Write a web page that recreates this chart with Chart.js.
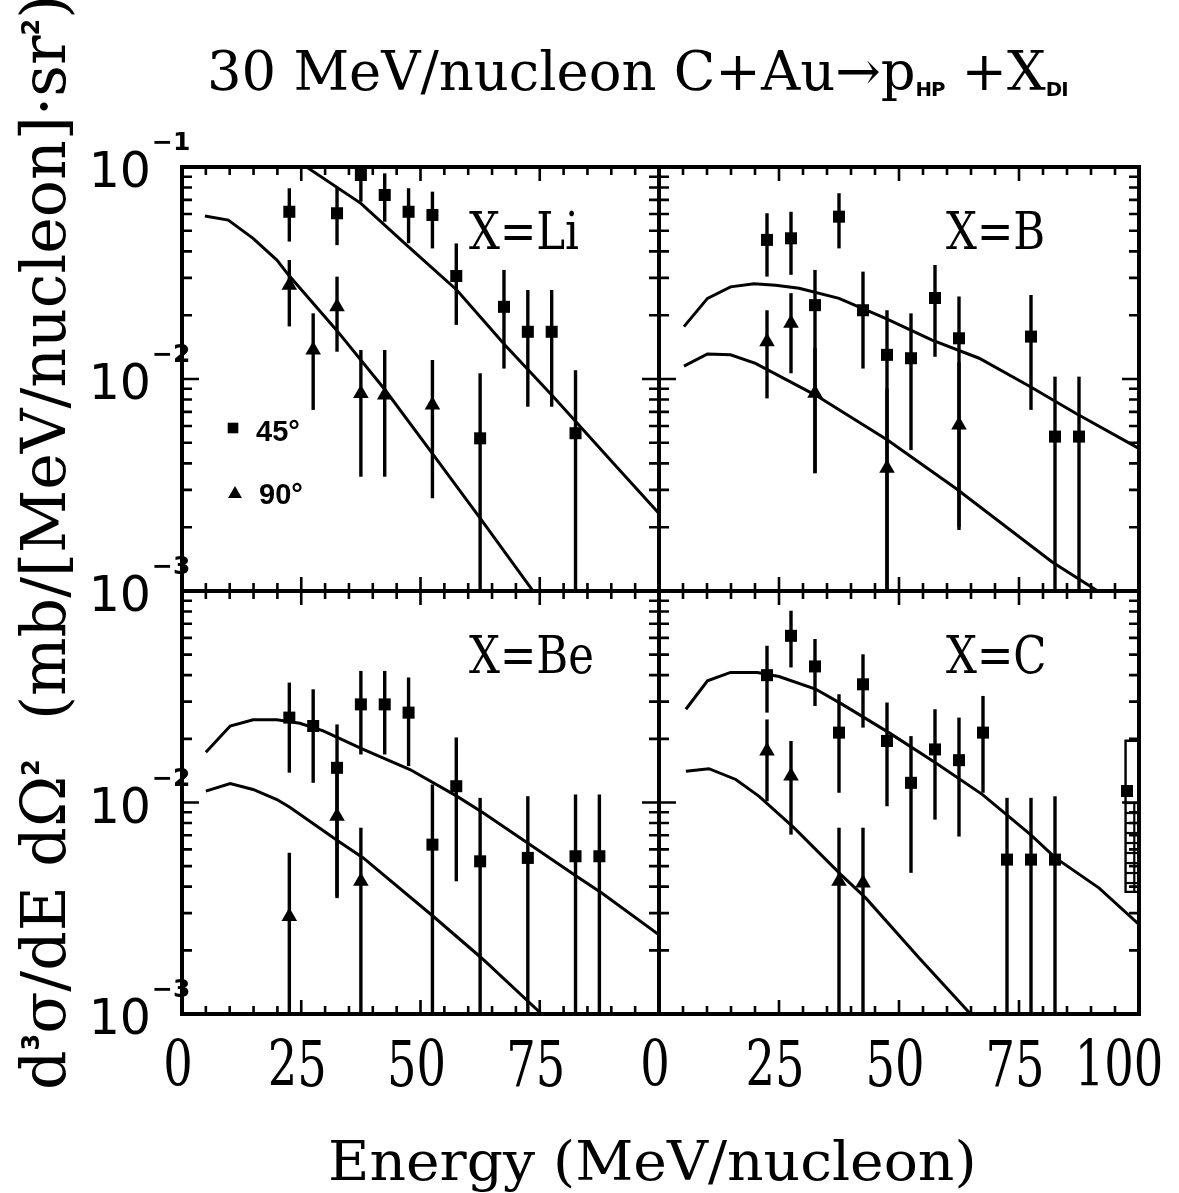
<!DOCTYPE html>
<html>
<head>
<meta charset="utf-8">
<script src="https://cdn.jsdelivr.net/npm/chart.js@4.4.1/dist/chart.umd.min.js"></script>
<style>
html, body { margin: 0; padding: 0; background: #fff; }
#wrap { position: relative; width: 1179px; height: 1193px; overflow: hidden; background: #fff; }
#wrap canvas { position: absolute; left: 0; top: 0; }
.t { position: absolute; font-family: "DejaVu Serif Condensed", "DejaVu Serif", serif; font-stretch: condensed;
     color: #000; white-space: nowrap; line-height: 1; transform-origin: 0 0; }
.sub { font-family: "DejaVu Sans", sans-serif; font-weight: bold; font-size: 20px; position: relative; top: 6px; letter-spacing: -1px; }
.sup { font-family: "DejaVu Sans", sans-serif; font-weight: bold; font-size: 24px; position: relative; top: -26px; }
</style>
</head>
<body>
<div id="wrap">
  <canvas id="cTL" width="1179" height="1193"></canvas>
  <canvas id="cTR" width="1179" height="1193"></canvas>
  <canvas id="cBL" width="1179" height="1193"></canvas>
  <canvas id="cBR" width="1179" height="1193"></canvas>
  <div class="t" id="title" style="left:207px; top:44px; font-size:55px;">30 MeV/nucleon C+Au→p<span class="sub">HP</span> +X<span class="sub">DI</span></div>
  <div class="t" id="xtitle" style="left:328px; top:1134px; font-size:55px;">Energy (MeV/nucleon)</div>
  <div class="t" id="ytitle" style="left:13px; top:1090px; font-size:62px;">d<span class="sup">3</span>σ/dE dΩ<span class="sup">2</span>&nbsp; (mb/[MeV/nucleon]·sr<span class="sup">2</span>)</div>
</div>
<script>
// [energy, value, error low, error high]  (error low 0.001 = runs off the bottom of the frame)
var li45 = [[22.5, 0.0615, 0.0445, 0.0794], [32.5, 0.0605, 0.0428, 0.0807], [37.5, 0.0917, 0.0686, 0.12],
            [42.5, 0.0738, 0.0552, 0.0933], [47.5, 0.0615, 0.0437, 0.0794], [52.5, 0.0594, 0.0413, 0.0765],
            [57.5, 0.0306, 0.0180, 0.0436], [62.5, 0.00525, 0.001, 0.01064], [67.5, 0.0219, 0.0112, 0.0327],
            [72.5, 0.0167, 0.0074, 0.0263], [77.5, 0.0167, 0.0074, 0.0263], [82.5, 0.00555, 0.001, 0.0110]];
var li90 = [[22.5, 0.0277, 0.0177, 0.0364], [27.5, 0.0137, 0.00715, 0.0204], [32.5, 0.0219, 0.01345, 0.0304],
            [37.5, 0.00855, 0.00346, 0.0137], [42.5, 0.0084, 0.00346, 0.0137], [52.5, 0.00754, 0.00274, 0.0123]];
var b45 = [[22.5, 0.0453, 0.0304, 0.0605], [27.5, 0.0461, 0.031, 0.0615], [32.5, 0.0223, 0.00359, 0.0327],
           [37.5, 0.0583, 0.0413, 0.0752], [42.5, 0.0211, 0.0112, 0.0321], [47.5, 0.0130, 0.001, 0.0211],
           [52.5, 0.01253, 0.00462, 0.0204], [57.5, 0.0241, 0.01273, 0.0345], [62.5, 0.01556, 0.00194, 0.0245],
           [77.5, 0.01585, 0.00715, 0.0249], [82.5, 0.00535, 0.001, 0.01026], [87.5, 0.00535, 0.001, 0.01026]];
var b90 = [[22.5, 0.0150, 0.0081, 0.0211], [27.5, 0.0183, 0.01064, 0.0254], [32.5, 0.00857, 0.0036, 0.014],
           [47.5, 0.00379, 0.001, 0.009], [62.5, 0.00607, 0.002, 0.012]];
var be45 = [[22.5, 0.0252, 0.01384, 0.0369], [27.5, 0.0230, 0.01239, 0.0343], [32.5, 0.01459, 0.00353, 0.0234],
            [37.5, 0.0291, 0.01687, 0.0419], [42.5, 0.0291, 0.01687, 0.0419], [47.5, 0.0266, 0.01486, 0.039],
            [52.5, 0.00632, 0.001, 0.01216], [57.5, 0.01194, 0.00424, 0.0203], [62.5, 0.00527, 0.001, 0.01052],
            [72.5, 0.00547, 0.001, 0.01071], [82.5, 0.00557, 0.001, 0.0109], [87.5, 0.00557, 0.001, 0.0109]];
var be90 = [[22.5, 0.00289, 0.001, 0.00578], [32.5, 0.0086, 0.0036, 0.015], [37.5, 0.00424, 0.001, 0.0076]];
var c45 = [[22.5, 0.040, 0.0266, 0.0551], [27.5, 0.0614, 0.0435, 0.0807], [32.5, 0.044, 0.0286, 0.0593],
           [37.5, 0.0214, 0.01112, 0.0325], [42.5, 0.0362, 0.0226, 0.0502], [47.5, 0.01954, 0.0096, 0.0297],
           [52.5, 0.01239, 0.00465, 0.0206], [57.5, 0.01782, 0.0083, 0.0276], [62.5, 0.01585, 0.0069, 0.0252],
           [67.5, 0.0214, 0.01112, 0.0319], [72.5, 0.00537, 0.001, 0.01052], [77.5, 0.00537, 0.001, 0.01052],
           [82.5, 0.00537, 0.001, 0.0107], [97.5, 0.01133, null, null]];
var c90 = [[22.5, 0.0175, 0.01014, 0.0247], [27.5, 0.01334, 0.00705, 0.01954],
           [37.5, 0.00424, 0.001, 0.0076], [42.5, 0.00416, 0.001, 0.0076]];
// systematic band at the right edge of X=C: [E from, E to, low, high]
var cSys = [97.2, 100, 0.00378, 0.0196];

// calculated curves [energy, value]
var liFit45 = [[22.5, 0.113], [26.1, 0.1], [37.5, 0.0674], [47.1, 0.0428], [57.6, 0.0263], [67.7, 0.01446],
               [77.8, 0.00826], [91.1, 0.00386], [100, 0.00232]];
var liFit90 = [[4.8, 0.0587], [9.7, 0.0562], [14.9, 0.0461], [19.9, 0.0364], [22.3, 0.031], [32.4, 0.017],
               [42.6, 0.00887], [52.7, 0.00439], [62.8, 0.00216], [73.3, 0.00102], [75, 0.00088]];
var bFit45 = [[5.2, 0.01766], [10.1, 0.024], [14.9, 0.0272], [19.8, 0.0281], [24.3, 0.0277], [29.2, 0.0268],
              [37.5, 0.024], [47.2, 0.0193], [56.9, 0.01527], [66.7, 0.01253], [77.1, 0.00927], [86.8, 0.00689],
              [99.3, 0.0048], [100, 0.0047]];
var bFit90 = [[5.2, 0.0115], [10.1, 0.01312], [14.9, 0.0130], [20.1, 0.01185], [32.6, 0.0084], [47.6, 0.00515],
              [61.8, 0.00305], [81.9, 0.00137], [92, 0.00098]];
var beFit45 = [[5.0, 0.0173], [10.1, 0.023], [14.9, 0.0246], [19.9, 0.0246], [24.7, 0.0237], [29.6, 0.0218],
               [38.0, 0.01782], [47.8, 0.01432], [57.6, 0.01072], [63.2, 0.00893], [73.0, 0.00632],
               [82.7, 0.00448], [88.0, 0.00373], [100, 0.00237]];
var beFit90 = [[5.0, 0.01132], [10.1, 0.01228], [14.9, 0.01153], [19.9, 0.01033], [22.6, 0.0095], [32.8, 0.00656],
               [38.0, 0.00547], [52.7, 0.00289], [62.8, 0.00184], [75.4, 0.001], [77, 0.00092]];
var cFit45 = [[5.6, 0.0276], [10.1, 0.0376], [14.9, 0.0412], [20.5, 0.0412], [25, 0.0394], [32.6, 0.0344],
              [38.2, 0.0291], [47.9, 0.0214], [57.6, 0.01542], [67.4, 0.0109], [77.4, 0.00705], [82.6, 0.00547],
              [91.7, 0.00394], [100, 0.00265]];
var cFit90 = [[5.6, 0.01406], [10.4, 0.01445], [16, 0.01285], [20.8, 0.01072], [28.1, 0.0076], [37.9, 0.00456],
              [43.1, 0.00353], [54.2, 0.00184], [64.9, 0.001], [66, 0.00093]];

var xTickLabels = [0, 25, 50, 75, 100];
var yTickLabels = [0.1, 0.01, 0.001];
var legendLabels = ["45°", "90°"];

var W = 1179, H = 1193;
var SERIF = '"DejaVu Serif Condensed", "DejaVu Serif", serif';

function pts(rows) {
	return rows.map(function(r) { return {x: r[0], y: r[1], lo: r[2], hi: r[3]}; });
}

// draws a text squeezed horizontally by sx
function squeezed(ctx, text, x, y, sx, align) {
	var w = ctx.measureText(text).width * sx;
	var left = align == "center" ? x - w / 2 : (align == "right" ? x - w : x);
	ctx.save();
	ctx.translate(left, y);
	ctx.scale(sx, 1);
	ctx.textAlign = "left";
	ctx.fillText(text, 0, 0);
	ctx.restore();
}

var errorBars = {
	id: "errorBars",
	beforeDatasetsDraw: function(chart) {
		var ctx = chart.ctx, a = chart.chartArea, xs = chart.scales.x, ys = chart.scales.y;
		ctx.save();
		ctx.beginPath();
		ctx.rect(a.left, a.top, a.right - a.left, a.bottom - a.top);
		ctx.clip();
		ctx.strokeStyle = "#000";
		ctx.lineWidth = 3.4;
		chart.data.datasets.forEach(function(ds) {
			if (!ds.errors) return;
			ds.data.forEach(function(p) {
				if (p.hi == null) return;
				var px = xs.getPixelForValue(p.x);
				ctx.beginPath();
				ctx.moveTo(px, ys.getPixelForValue(p.hi));
				ctx.lineTo(px, ys.getPixelForValue(Math.max(p.lo, 0.0009)));
				ctx.stroke();
			});
		});
		ctx.restore();
	}
};

var frame = {
	id: "frame",
	afterDraw: function(chart) {
		var o = chart.options.plugins.frame;
		var ctx = chart.ctx, a = chart.chartArea, xs = chart.scales.x, ys = chart.scales.y;
		ctx.save();
		ctx.strokeStyle = "#000";
		ctx.fillStyle = "#000";

		// systematic band
		if (o.sys) {
			var bl = xs.getPixelForValue(o.sys[0]), br = xs.getPixelForValue(o.sys[1]);
			var bt = ys.getPixelForValue(o.sys[3]), bb = ys.getPixelForValue(o.sys[2]);
			ctx.lineWidth = 2.4;
			ctx.beginPath();
			ctx.rect(bl, bt, br - bl, bb - bt);
			ctx.stroke();
			var start = ys.getPixelForValue(o.sysFrom) + 12;
			ctx.lineWidth = 2.2;
			for (var hy = start; hy < bb - 3; hy += 10) {
				ctx.beginPath();
				ctx.moveTo(bl, hy);
				ctx.lineTo(br, hy);
				ctx.stroke();
			}
			ctx.beginPath();
			ctx.moveTo((bl + br) / 2 + 2, start);
			ctx.lineTo((bl + br) / 2 + 2, bb);
			ctx.stroke();
		}

		// ticks, all inward
		ctx.lineWidth = 2.6;
		for (var v = 0; v <= 100; v += 5) {
			var px = xs.getPixelForValue(v);
			var len = v % 25 == 0 ? 14 : 8;
			ctx.beginPath();
			ctx.moveTo(px, a.top); ctx.lineTo(px, a.top + len);
			ctx.moveTo(px, a.bottom); ctx.lineTo(px, a.bottom - len);
			ctx.stroke();
		}
		for (var d = -3; d < -1; d++) {
			for (var k = 1; k <= 9; k++) {
				var py = ys.getPixelForValue(k * Math.pow(10, d));
				var ln = k == 1 ? 17 : 10;
				ctx.beginPath();
				ctx.moveTo(a.left, py); ctx.lineTo(a.left + ln, py);
				ctx.moveTo(a.right, py); ctx.lineTo(a.right - ln, py);
				ctx.stroke();
			}
		}

		// frame
		ctx.lineWidth = 4;
		ctx.strokeRect(a.left, a.top, a.right - a.left, a.bottom - a.top);

		// y tick labels
		o.yLabels.forEach(function(val) {
			var py = ys.getPixelForValue(val);
			ctx.font = '49px "DejaVu Sans", sans-serif';
			ctx.textAlign = "right";
			ctx.textBaseline = "alphabetic";
			ctx.fillText("10", a.left - 31, py + 20);
			ctx.font = 'bold 25px "DejaVu Sans", sans-serif';
			ctx.textAlign = "left";
			ctx.fillText("\u2212" + Math.round(-Math.log10(val)), a.left - 30, py - 17);
		});

		// x tick labels
		ctx.font = "64px " + SERIF;
		ctx.textBaseline = "alphabetic";
		var dig = ctx.measureText("0").width;
		var sx = 29.5 / dig;
		o.xLabels.forEach(function(val) {
			var px = xs.getPixelForValue(val) - (val == 100 ? 20 : 4);
			squeezed(ctx, String(val), px, 1086, sx, "center");
		});

		// panel label
		ctx.font = "52px " + SERIF;
		var lsx = 110 / ctx.measureText("X=Li").width;
		squeezed(ctx, o.label, a.left + 287, a.top + 82, lsx, "left");

		// legend
		if (o.legend) {
			ctx.font = 'bold 29px "Liberation Sans", Arial, sans-serif';
			ctx.textAlign = "left";
			Chart.helpers.drawPoint(ctx, {pointStyle: "rect", radius: 7.5, borderWidth: 0}, a.left + 51, a.top + 261);
			ctx.fillText(legendLabels[0], a.left + 74, a.top + 274);
			Chart.helpers.drawPoint(ctx, {pointStyle: "triangle", radius: 8, borderWidth: 0}, a.left + 53, a.top + 327);
			ctx.fillText(legendLabels[1], a.left + 77, a.top + 337);
		}
		ctx.restore();
	}
};

function panel(id, area, label, sq, tri, fit45, fit90, extra) {
	extra = extra || {};
	var line = function(rows) {
		return {type: "line", data: pts(rows), borderColor: "#000", borderWidth: 3, pointRadius: 0,
			fill: false, tension: 0, order: 3};
	};
	return new Chart(document.getElementById(id), {
		type: "scatter",
		data: {
			datasets: [
				line(fit45), line(fit90),
				{data: pts(sq), errors: true, pointStyle: "rect", pointRadius: 8.5, backgroundColor: "#000",
					borderWidth: 0, order: 1},
				{data: pts(tri), errors: true, pointStyle: "triangle", pointRadius: 9, backgroundColor: "#000",
					borderWidth: 0, order: 2}
			]
		},
		options: {
			responsive: false, animation: false, devicePixelRatio: 1, events: [],
			layout: {padding: {left: area[0], top: area[1], right: W - area[2], bottom: H - area[3]}},
			scales: {
				x: {type: "linear", min: 0, max: 100, display: false},
				y: {type: "logarithmic", min: 0.001, max: 0.1, display: false}
			},
			plugins: {
				legend: {display: false},
				tooltip: {enabled: false},
				frame: {label: label, xLabels: extra.xLabels || [], yLabels: extra.yLabels || [],
					legend: extra.legend, sys: extra.sys, sysFrom: extra.sysFrom}
			}
		},
		plugins: [errorBars, frame]
	});
}

function Init() {
	panel("cTL", [182, 167, 659, 591], "X=Li", li45, li90, liFit45, liFit90,
		{yLabels: yTickLabels, legend: true});
	panel("cTR", [659, 167, 1139, 591], "X=B", b45, b90, bFit45, bFit90);
	panel("cBL", [182, 591, 659, 1014], "X=Be", be45, be90, beFit45, beFit90,
		{yLabels: yTickLabels.slice(1), xLabels: xTickLabels.slice(0, 4)});
	panel("cBR", [659, 591, 1139, 1014], "X=C", c45, c90, cFit45, cFit90,
		{xLabels: xTickLabels, sys: cSys, sysFrom: c45[c45.length - 1][1]});

	// squeeze the serif titles to the widths of the original lettering
	var fit = function(id, target, rot) {
		var el = document.getElementById(id);
		var s = target / el.offsetWidth;
		el.style.transform = (rot ? "rotate(-90deg) " : "") + "scaleX(" + s + ")";
	};
	fit("title", 860);
	fit("xtitle", 648);
	fit("ytitle", 1095, true);
}

Init();
</script>
</body>
</html>
